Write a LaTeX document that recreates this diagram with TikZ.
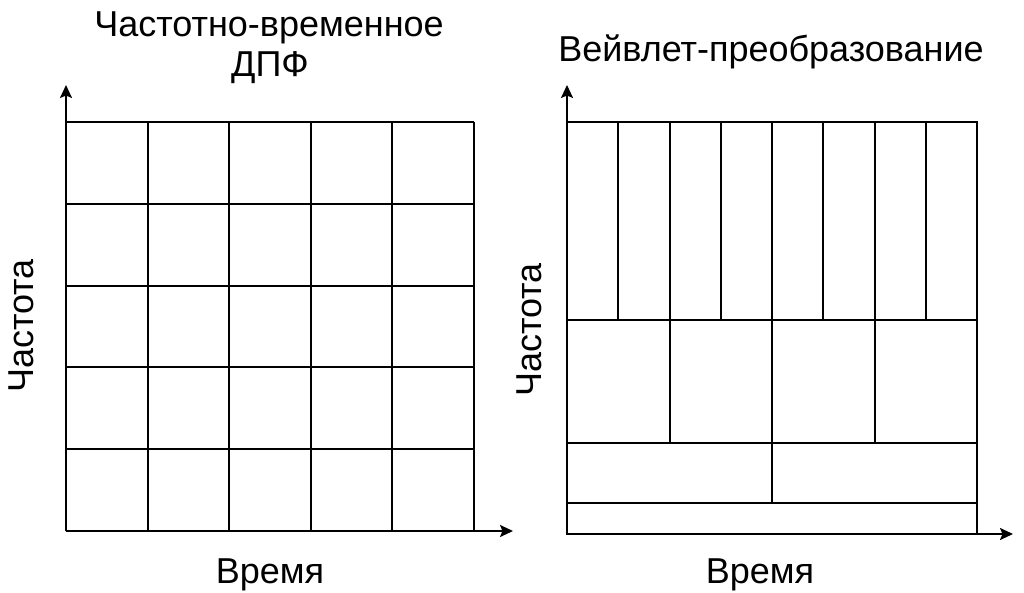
\documentclass[tikz,border=0pt]{standalone}
\usepackage{fontspec}
\setmainfont{Liberation Sans}
\usetikzlibrary{arrows.meta}
\tikzset{
  axisarrow/.style={-{Stealth[length=13pt,width=12pt,inset=2.5pt]}},
  txt/.style={font=\fontsize{36}{42}\selectfont,anchor=base,inner sep=0pt}
}

\begin{document}
\begin{tikzpicture}[x=1pt,y=1pt,line width=2pt]
\useasboundingbox (0,0) rectangle (1024,592);

\foreach \i in {0,...,5} {
  \draw (66+81.6*\i,61) -- (66+81.6*\i,470);
  \draw (66,61+81.8*\i) -- (474,61+81.8*\i);
}
\draw[axisarrow] (66,61) -- (66,507);
\draw[axisarrow] (66,61) -- (513,61);
\node[txt] (dftA) at (269,555) {Частотно-временное};
\node[txt] (dftB) at (270,515) {ДПФ};
\node[txt,rotate=90] (freqL) at (33,266) {Частота};
\node[txt] (timeL) at (270,9) {Время};

\draw (567,58) rectangle (977,470);
\draw (567,272) -- (977,272);
\draw (567,149) -- (977,149);
\draw (567,89) -- (977,89);
\foreach \i in {1,...,7}
  \draw (567+51.25*\i,272) -- (567+51.25*\i,470);
\foreach \i in {1,2,3}
  \draw (567+102.5*\i,149) -- (567+102.5*\i,272);
\draw (772,89) -- (772,149);
\draw[axisarrow] (567,58) -- (567,507);
\draw[axisarrow] (567,58) -- (1013,58);
\node[txt] (wavelet) at (771,530) {Вейвлет-преобразование};
\node[txt,rotate=90] (freqR) at (541,262) {Частота};
\node[txt] (timeR) at (760,9) {Время};
\end{tikzpicture}
\end{document}
